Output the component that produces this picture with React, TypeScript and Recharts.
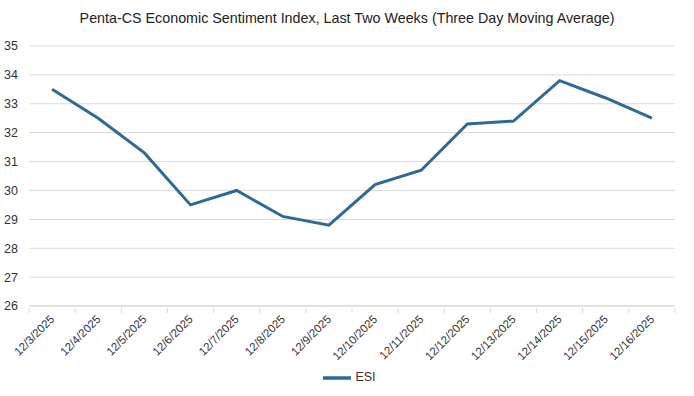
import { LineChart, Line, XAxis, YAxis, CartesianGrid, Legend } from 'recharts';

const dates = [
  '12/3/2025', '12/4/2025', '12/5/2025', '12/6/2025', '12/7/2025', '12/8/2025', '12/9/2025',
  '12/10/2025', '12/11/2025', '12/12/2025', '12/13/2025', '12/14/2025', '12/15/2025', '12/16/2025',
];
const esi = [33.5, 32.5, 31.3, 29.5, 30.0, 29.1, 28.8, 30.2, 30.7, 32.3, 32.4, 33.8, 33.2, 32.5];
const yTicks = [26, 27, 28, 29, 30, 31, 32, 33, 34, 35];

const data = dates.map((d, i) => ({ date: d, ESI: esi[i] }));

const FONT = '"Liberation Sans", Arial, sans-serif';
const BAND = 646 / dates.length;

function DateTick(props: any) {
  const { x, y, payload, index } = props;
  return (
    <g>
      <line x1={x - BAND / 2} x2={x - BAND / 2} y1={y - 6} y2={y - 1} stroke="#d9d9d9" />
      {index === dates.length - 1 && (
        <line x1={x + BAND / 2} x2={x + BAND / 2} y1={y - 6} y2={y - 1} stroke="#d9d9d9" />
      )}
      <text
        x={x + 3}
        y={y + 6}
        textAnchor="end"
        transform={`rotate(-45, ${x + 3}, ${y + 6})`}
        fontSize={11.5}
        fill="#333"
        fontFamily={FONT}
      >
        {payload.value}
      </text>
    </g>
  );
}

export default function App() {
  return (
    <div style={{ position: 'absolute', left: 0, top: 0, width: 694, height: 396, background: '#fff', fontFamily: FONT }}>
      <div style={{ position: 'absolute', top: 10, left: 0, width: 694, textAlign: 'center', fontSize: 14.3, color: '#222' }}>
        Penta-CS Economic Sentiment Index, Last Two Weeks (Three Day Moving Average)
      </div>
      <LineChart width={694} height={396} data={data} margin={{ top: 46, right: 19, left: 0, bottom: 4 }}>
        <CartesianGrid vertical={false} stroke="#d9d9d9" />
        <XAxis
          dataKey="date"
          interval={0}
          height={58}
          padding={{ left: BAND / 2, right: BAND / 2 }}
          tick={<DateTick />}
          tickLine={false}
          axisLine={{ stroke: '#d9d9d9' }}
        />
        <YAxis
          domain={[26, 35]}
          ticks={yTicks}
          width={29}
          tickSize={0}
          tickMargin={11}
          axisLine={false}
          tickLine={false}
          tick={{ fontSize: 12.5, fill: '#333', fontFamily: FONT }}
        />
        <Legend
          verticalAlign="bottom"
          iconType="plainline"
          iconSize={28}
          wrapperStyle={{ fontSize: 12.5, fontFamily: FONT, paddingLeft: 17 }}
          formatter={(v) => <span style={{ color: '#333' }}>{v}</span>}
        />
        <Line
          type="linear"
          dataKey="ESI"
          stroke="#2e6a97"
          strokeWidth={3}
          dot={false}
          isAnimationActive={false}
        />
      </LineChart>
    </div>
  );
}
